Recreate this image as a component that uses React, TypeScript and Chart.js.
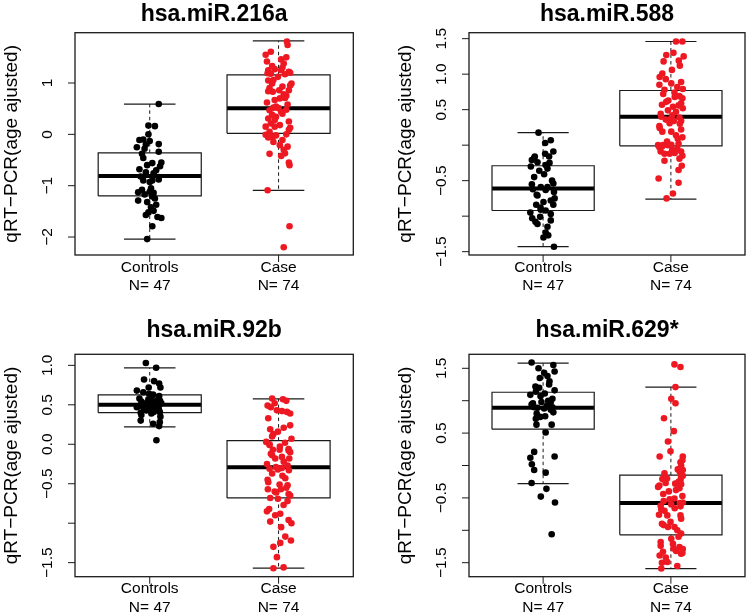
import React, { useEffect, useRef } from "react";
import { Chart, registerables } from "chart.js";
Chart.register(...registerables);

const FONT = '"Liberation Sans", Arial, Helvetica, sans-serif';

// ---------- DATA ----------
const titles = ["hsa.miR.216a", "hsa.miR.588", "hsa.miR.92b", "hsa.miR.629*"];
const groups = ["Controls", "Case"];
const groupCounts = ["N= 47", "N= 74"];
const yAxisTitle = "qRT\u2212PCR(age ajusted)";

// y-axis limits per panel [min, max]
const yLimits = [
  [-2.35, 1.98],
  [-1.547, 1.584],
  [-1.678, 1.14],
  [-1.716, 1.716],
];
// tick values per panel
const yTickValues = [
  [-2, -1, 0, 1],
  [-1.5, -1, -0.5, 0, 0.5, 1, 1.5],
  [-1.5, -1, -0.5, 0, 0.5, 1],
  [-1.5, -1, -0.5, 0, 0.5, 1, 1.5],
];
// tick labels per panel (blank where R dropped overlapping labels)
const yTickLabels = [
  ["\u22122", "\u22121", "0", "1"],
  ["\u22121.5", "", "\u22120.5", "", "0.5", "1.0", "1.5"],
  ["\u22121.5", "", "\u22120.5", "0.0", "0.5", "1.0"],
  ["\u22121.5", "", "\u22120.5", "", "0.5", "", "1.5"],
];

// box stats: [lower whisker, Q1, median, Q3, upper whisker]
const boxControls = [
  [-2.04, -1.2, -0.81, -0.36, 0.59],
  [-1.43, -0.92, -0.61, -0.29, 0.176],
  [0.22, 0.4, 0.5, 0.625, 0.967],
  [-0.28, 0.56, 0.89, 1.13, 1.58],
];
const boxCase = [
  [-1.09, 0.02, 0.51, 1.16, 1.82],
  [-0.76, -0.01, 0.4, 0.77, 1.46],
  [-1.57, -0.68, -0.29, 0.046, 0.574],
  [-1.59, -1.07, -0.58, -0.15, 1.21],
];

// jittered points: [jitter offset, value]
const miR216aControls = [
  [0.07, 0.59], [-0.01, 0.17], [0.04, 0.16], [-0.01, 0.0], [-0.08, -0.11], [-0.05, -0.1], [0.0, -0.13], [-0.1, -0.25],
  [-0.03, -0.2], [-0.04, -0.28], [0.07, -0.19], [0.07, -0.34], [-0.05, -0.46], [0.02, -0.56], [0.09, -0.55], [0.08, -0.62],
  [-0.08, -0.68], [-0.03, -0.74], [-0.07, -0.82], [0.03, -0.76], [0.07, -0.83], [-0.05, -0.9], [0.02, -0.9], [0.07, -0.88],
  [0.0, -0.93], [-0.06, -1.08], [-0.09, -1.13], [0.0, -1.12], [0.03, -1.14], [-0.04, -1.17], [0.02, -1.21], [-0.09, -1.29],
  [0.04, -1.25], [0.05, -1.37], [0.01, -1.42], [0.03, -1.49], [-0.03, -1.57], [-0.01, -1.52], [0.06, -1.61], [0.09, -1.63],
  [0.02, -1.79], [-0.02, -2.04], [-0.02, -0.6], [0.05, -0.7], [-0.06, -0.38], [0.01, -1.05], [-0.02, -1.32],
];
const miR216aCase = [
  [0.065, 1.81], [0.07, 1.74], [-0.06, 1.61], [-0.1, 1.55], [0.02, 1.46], [0.04, 1.38], [-0.05, 1.33], [-0.08, 1.25],
  [-0.03, 1.27], [0.02, 1.25], [0.08, 1.22], [-0.085, 1.19], [-0.005, 1.12], [-0.04, 1.06], [0.1, 0.99], [0.08, 0.86],
  [-0.05, 0.99], [0.03, 0.93], [0.005, 0.86], [-0.08, 0.84], [-0.045, 0.83], [0.06, 0.75], [0.01, 0.7], [-0.03, 0.67],
  [-0.02, 0.54], [-0.07, 0.47], [0.0, 0.51], [0.02, 0.44], [-0.05, 0.38], [-0.02, 0.34], [-0.08, 0.31], [-0.06, 0.21],
  [-0.1, 0.15], [-0.03, 0.15], [0.09, 0.13], [0.08, 0.09], [-0.07, 0.05], [-0.1, -0.01], [-0.045, -0.05], [0.03, -0.11],
  [0.01, -0.21], [0.07, -0.24], [0.05, -0.37], [-0.07, -0.38], [0.02, -0.42], [0.085, -0.6], [-0.085, -1.09], [0.085, -1.79],
  [0.04, -2.2], [0.03, 1.3], [0.09, 1.2], [-0.06, 1.18], [0.06, 1.5], [-0.09, 1.42], [0.05, 1.17], [-0.02, -0.02],
  [0.06, 0.0], [-0.08, -0.06], [0.04, -0.3], [0.08, -0.55], [-0.04, -0.15], [0.09, 0.95], [-0.07, 0.9], [0.04, 0.78],
  [-0.09, 0.62], [0.07, 0.58], [-0.04, 0.52], [0.06, 0.48], [0.03, 0.4], [-0.03, 0.28], [0.08, 0.25], [0.01, 0.18],
  [-0.08, 1.05], [0.05, 0.71],
];
const miR588Controls = [
  [-0.036, 0.176], [0.016, 0.03], [0.06, 0.07], [0.08, -0.09], [0.016, -0.12], [0.047, -0.16], [-0.065, -0.16], [-0.088, -0.21],
  [-0.044, -0.24], [-0.096, -0.3], [0.02, -0.28], [0.034, -0.33], [0.008, -0.41], [-0.07, -0.45], [-0.088, -0.55], [0.08, -0.54],
  [-0.018, -0.59], [0.034, -0.59], [0.085, -0.66], [-0.044, -0.71], [0.003, -0.8], [0.06, -0.78], [0.08, -0.84], [-0.054, -0.84],
  [-0.018, -0.91], [0.02, -0.92], [-0.1, -0.95], [-0.085, -1.03], [-0.023, -1.01], [0.06, -1.06], [-0.044, -1.11], [0.034, -1.15],
  [0.02, -1.23], [0.003, -1.3], [0.085, -1.43], [-0.07, -0.18], [0.05, -0.25], [-0.03, -0.36], [0.07, -0.5], [-0.08, -0.62],
  [0.02, -0.63], [-0.05, -0.7], [0.09, -0.75], [-0.02, -0.88], [0.06, -0.97], [-0.06, -1.08], [0.04, -1.27],
];
const miR588Case = [
  [0.04, 1.46], [0.09, 1.46], [-0.036, 1.27], [0.1, 1.25], [-0.057, 1.18], [0.062, 1.19], [0.008, 1.06], [-0.067, 1.01],
  [-0.088, 0.96], [0.08, 0.89], [0.003, 0.87], [-0.09, 0.85], [-0.05, 0.78], [0.093, 0.79], [0.028, 0.74], [0.067, 0.69],
  [-0.036, 0.61], [0.08, 0.59], [0.016, 0.54], [-0.023, 0.49], [0.093, 0.52], [0.04, 0.47], [-0.075, 0.4], [0.003, 0.38],
  [0.067, 0.39], [0.08, 0.34], [0.023, 0.34], [-0.088, 0.24], [-0.067, 0.19], [0.003, 0.19], [0.08, 0.22], [0.054, 0.09],
  [-0.1, 0.0], [-0.062, 0.0], [-0.023, 0.0], [0.003, 0.005], [-0.08, -0.09], [-0.05, -0.12], [-0.01, -0.12], [0.08, -0.09],
  [0.067, -0.19], [0.085, -0.29], [-0.096, -0.47], [0.06, -0.53], [0.016, -0.68], [-0.034, -0.75], [0.07, 1.12], [-0.04, 0.93],
  [0.05, 0.82], [0.02, 1.3], [0.05, -0.05], [-0.09, -0.03], [0.01, -0.07], [0.09, -0.15], [-0.05, -0.22], [0.03, -0.11],
  [-0.07, -0.02], [0.06, -0.35], [-0.06, 0.72], [0.09, 0.66], [-0.02, 0.63], [0.06, 0.56], [-0.08, 0.44], [0.01, 0.42],
  [-0.04, 0.36], [0.07, 0.3], [-0.09, 0.27], [0.04, 0.14], [-0.03, 0.05], [0.09, 0.11], [-0.07, 0.57], [0.03, 0.68],
  [-0.01, 0.31], [0.06, 0.02],
];
const miR92bControls = [
  [-0.03, 1.03], [0.05, 0.97], [-0.044, 0.82], [0.034, 0.8], [0.073, 0.77], [0.083, 0.72], [-0.008, 0.72], [-0.1, 0.68],
  [-0.05, 0.66], [-0.005, 0.64], [0.026, 0.63], [0.073, 0.61], [0.013, 0.6], [-0.065, 0.54], [-0.04, 0.51], [0.026, 0.54],
  [0.078, 0.51], [-0.1, 0.47], [-0.05, 0.47], [0.0, 0.49], [0.057, 0.47], [-0.026, 0.43], [0.031, 0.41], [0.078, 0.41],
  [-0.065, 0.37], [0.013, 0.39], [0.083, 0.35], [-0.07, 0.3], [0.078, 0.28], [0.026, 0.26], [0.073, 0.23], [0.052, 0.05],
  [0.02, 0.62], [-0.08, 0.58], [0.06, 0.56], [-0.02, 0.53], [0.09, 0.52], [-0.06, 0.5], [0.04, 0.5], [-0.09, 0.48],
  [0.01, 0.46], [0.07, 0.45], [-0.04, 0.44], [0.03, 0.42], [-0.07, 0.4], [0.08, 0.55], [-0.01, 0.57],
];
const miR92bCase = [
  [-0.05, 0.58], [0.034, 0.57], [-0.085, 0.49], [-0.06, 0.47], [-0.013, 0.43], [0.065, 0.41], [0.026, 0.42], [0.09, 0.24],
  [-0.065, 0.19], [-0.005, 0.16], [-0.04, 0.13], [0.1, 0.07], [-0.096, 0.03], [-0.07, -0.01], [0.078, -0.06], [-0.044, -0.07],
  [0.008, -0.07], [0.078, -0.08], [-0.05, -0.14], [-0.026, -0.18], [0.026, -0.16], [0.083, -0.18], [-0.07, -0.31], [0.026, -0.3],
  [-0.005, -0.32], [-0.085, -0.45], [0.052, -0.43], [0.008, -0.51], [0.07, -0.52], [0.018, -0.57], [-0.083, -0.57], [-0.018, -0.61],
  [0.078, -0.63], [-0.065, -0.68], [-0.005, -0.69], [0.039, -0.77], [-0.073, -0.82], [-0.026, -0.9], [0.013, -0.88], [-0.065, -0.98],
  [0.078, -0.96], [0.1, -1.0], [0.052, -1.17], [0.096, -1.22], [0.013, -1.25], [-0.013, -1.43], [-0.04, -1.57], [0.039, -1.56],
  [0.06, 0.55], [-0.03, 0.52], [0.09, 0.39], [-0.08, 0.33], [0.04, 0.21], [-0.05, 0.1], [0.07, -0.72], [-0.09, -0.85],
  [0.02, -1.05], [-0.04, -1.3], [0.05, 0.02], [-0.07, 0.0], [0.01, -0.03], [0.09, -0.1], [-0.06, -0.12], [0.04, -0.22],
  [-0.09, -0.25], [0.07, -0.27], [-0.02, -0.29], [0.08, -0.33], [-0.05, -0.37], [0.03, -0.4], [-0.08, -0.48], [0.06, -0.55],
  [-0.03, -0.6], [0.09, -0.65],
];
const miR629Controls = [
  [-0.09, 1.59], [0.08, 1.55], [0.09, 1.45], [-0.036, 1.5], [0.008, 1.43], [0.034, 1.38], [-0.026, 1.35], [0.047, 1.25],
  [-0.031, 1.2], [-0.1, 1.09], [0.013, 1.11], [-0.057, 1.14], [0.073, 1.03], [0.06, 0.98], [-0.013, 0.98], [-0.09, 0.94],
  [-0.07, 0.9], [-0.044, 0.89], [0.073, 0.9], [0.08, 0.82], [0.008, 0.88], [-0.057, 0.72], [-0.023, 0.75], [0.016, 0.76],
  [0.067, 0.63], [-0.052, 0.63], [0.02, 0.51], [-0.07, 0.21], [-0.1, 0.12], [0.09, 0.14], [-0.088, 0.02], [-0.07, -0.07],
  [0.02, -0.11], [-0.09, -0.27], [0.026, -0.36], [-0.018, -0.48], [0.093, -0.57], [0.067, -1.06], [0.05, 1.3], [-0.06, 1.22],
  [0.09, 1.16], [-0.02, 1.07], [0.04, 1.0], [-0.08, 0.96], [0.03, 0.92], [0.06, 0.86], [-0.05, 0.8],
];
const miR629Case = [
  [0.028, 1.56], [0.075, 1.52], [0.036, 1.21], [0.003, 1.03], [0.036, 0.96], [-0.054, 0.73], [0.023, 0.53], [-0.023, 0.37],
  [-0.003, 0.22], [-0.088, 0.14], [0.093, 0.14], [0.075, 0.05], [0.08, 0.0], [0.054, -0.06], [0.093, -0.07], [-0.067, -0.21],
  [0.093, -0.16], [0.075, -0.23], [-0.041, -0.27], [-0.1, -0.33], [0.034, -0.28], [0.08, -0.29], [0.067, -0.35], [-0.016, -0.4],
  [0.028, -0.51], [-0.057, -0.55], [0.093, -0.57], [0.075, -0.63], [0.003, -0.6], [-0.075, -0.68], [-0.093, -0.76], [-0.028, -0.77],
  [0.075, -0.77], [-0.003, -0.87], [-0.057, -0.92], [-0.023, -0.95], [0.028, -0.95], [0.08, -1.05], [0.003, -1.13], [0.016, -1.21],
  [0.067, -1.26], [0.041, -1.32], [-0.08, -1.24], [-0.062, -1.33], [-0.088, -1.39], [0.08, -1.36], [0.093, -1.29], [-0.028, -1.49],
  [-0.07, -1.5], [-0.075, -1.59], [0.07, -0.1], [-0.05, -0.12], [0.09, 0.08], [0.06, -1.1], [-0.08, -1.18], [0.02, -1.28],
  [0.09, -1.35], [-0.04, -1.42], [0.05, -1.55], [0.08, -0.18], [-0.03, -0.2], [0.06, -0.25], [-0.09, -0.31], [0.04, -0.38],
  [-0.06, -0.44], [0.09, -0.47], [-0.01, -0.52], [0.07, -0.58], [-0.08, -0.62], [0.03, -0.66], [-0.05, -0.7], [0.08, -0.82],
  [-0.07, -0.9], [0.05, -1.0],
];

const controlsPoints = [miR216aControls, miR588Controls, miR92bControls, miR629Controls];
const casePoints = [miR216aCase, miR588Case, miR92bCase, miR629Case];

// ---------- LAYOUT / STYLE ----------
const panels = [
  { left: 0, top: 0, w: 374, h: 306, area: { l: 75, t: 32.7, r: 353.3, b: 255 }, titleY: 20.5 },
  { left: 374, top: 0, w: 375, h: 306, area: { l: 95, t: 32.7, r: 372.7, b: 255 }, titleY: 20.5 },
  { left: 0, top: 306, w: 374, h: 306, area: { l: 75, t: 48.3, r: 353.3, b: 270.7 }, titleY: 30.5 },
  { left: 374, top: 306, w: 375, h: 306, area: { l: 95, t: 48.3, r: 372.7, b: 270.7 }, titleY: 30.5 },
];
const COLORS = ["#000000", "#EE1822"];
const BOX_HALF = 0.4;
const CAP_HALF = 0.2;

function lineDs(data: any[], extra: any = {}) {
  return {
    type: "scatter",
    data,
    showLine: true,
    pointRadius: 0,
    borderColor: "#1a1a1a",
    borderWidth: 1.2,
    fill: false,
    order: 2,
    clip: false,
    ...extra,
  };
}

function boxDatasets(stats: number[], g: number) {
  const [lo, q1, med, q3, hi] = stats;
  return [
    lineDs([
      { x: g - BOX_HALF, y: q1 }, { x: g + BOX_HALF, y: q1 }, { x: g + BOX_HALF, y: q3 },
      { x: g - BOX_HALF, y: q3 }, { x: g - BOX_HALF, y: q1 },
    ]),
    lineDs([{ x: g, y: q3 }, { x: g, y: hi }], { borderDash: [3.5, 3], borderWidth: 1 }),
    lineDs([{ x: g, y: q1 }, { x: g, y: lo }], { borderDash: [3.5, 3], borderWidth: 1 }),
    lineDs([{ x: g - CAP_HALF, y: hi }, { x: g + CAP_HALF, y: hi }]),
    lineDs([{ x: g - CAP_HALF, y: lo }, { x: g + CAP_HALF, y: lo }]),
    lineDs([{ x: g - BOX_HALF, y: med }, { x: g + BOX_HALF, y: med }], { borderWidth: 4, borderColor: "#000", borderCapStyle: "butt" }),
  ];
}

function pointDs(pts: number[][], g: number, color: string) {
  return {
    type: "scatter",
    data: pts.map(([dx, v]) => ({ x: g + dx, y: v })),
    pointRadius: 3.3,
    pointBackgroundColor: color,
    pointBorderWidth: 0,
    borderWidth: 0,
    showLine: false,
    order: 0,
    clip: false,
  };
}

function rotText(ctx: CanvasRenderingContext2D, text: string, x: number, y: number) {
  ctx.save();
  ctx.translate(x, y);
  ctx.rotate(-Math.PI / 2);
  ctx.textAlign = "center";
  ctx.textBaseline = "alphabetic";
  ctx.fillText(text, 0, 0);
  ctx.restore();
}

const decorPlugin = {
  id: "decor",
  afterDraw(chart: any, _args: any, opts: any) {
    const { ctx, chartArea: a, scales } = chart;
    const x = scales.x;
    const y = scales.y;
    ctx.save();
    ctx.fillStyle = "#000";
    ctx.strokeStyle = "#1a1a1a";
    ctx.lineWidth = 1.3;
    ctx.strokeRect(a.left, a.top, a.right - a.left, a.bottom - a.top);

    // y ticks + labels
    ctx.lineWidth = 1;
    ctx.font = `15.5px ${FONT}`;
    opts.yTicks.forEach((t: number, i: number) => {
      const py = y.getPixelForValue(t);
      ctx.beginPath();
      ctx.moveTo(a.left - 7, py);
      ctx.lineTo(a.left, py);
      ctx.stroke();
      if (opts.yLabels[i]) rotText(ctx, opts.yLabels[i], a.left - 23.5, py);
    });

    // x ticks + labels
    ctx.textAlign = "center";
    ctx.textBaseline = "alphabetic";
    opts.groups.forEach((name: string, i: number) => {
      const px = x.getPixelForValue(i + 1);
      ctx.beginPath();
      ctx.moveTo(px, a.bottom);
      ctx.lineTo(px, a.bottom + 7);
      ctx.stroke();
      ctx.fillText(name, px, a.bottom + 16.5);
      ctx.fillText(opts.counts[i], px, a.bottom + 35);
    });

    // y-axis title
    ctx.font = `19px ${FONT}`;
    rotText(ctx, opts.yTitle, a.left - 58.5, (a.top + a.bottom) / 2);

    // main title
    ctx.font = `bold 23px ${FONT}`;
    ctx.textAlign = "center";
    ctx.fillText(opts.title, (a.left + a.right) / 2, opts.titleY);
    ctx.restore();
  },
};

function buildConfig(i: number): any {
  const p = panels[i];
  const datasets = [
    ...boxDatasets(boxControls[i], 1),
    ...boxDatasets(boxCase[i], 2),
    pointDs(controlsPoints[i], 1, COLORS[0]),
    pointDs(casePoints[i], 2, COLORS[1]),
  ];
  return {
    type: "scatter",
    data: { datasets },
    plugins: [decorPlugin],
    options: {
      animation: false,
      responsive: false,
      maintainAspectRatio: false,
      events: [],
      layout: {
        padding: { left: p.area.l, top: p.area.t, right: p.w - p.area.r, bottom: p.h - p.area.b },
      },
      plugins: {
        legend: { display: false },
        tooltip: { enabled: false },
        title: { display: false },
        decor: {
          title: titles[i],
          titleY: p.titleY,
          yTicks: yTickValues[i],
          yLabels: yTickLabels[i],
          groups,
          counts: groupCounts,
          yTitle: yAxisTitle,
        },
      },
      scales: {
        x: { type: "linear", min: 0.42, max: 2.58, display: false },
        y: { type: "linear", min: yLimits[i][0], max: yLimits[i][1], display: false },
      },
    },
  };
}

function Panel({ index }: { index: number }) {
  const ref = useRef<HTMLCanvasElement | null>(null);
  const p = panels[index];
  useEffect(() => {
    if (!ref.current) return;
    const chart = new Chart(ref.current, buildConfig(index));
    return () => chart.destroy();
  }, [index]);
  return (
    <canvas
      ref={ref}
      width={p.w}
      height={p.h}
      style={{ position: "absolute", left: p.left, top: p.top, width: p.w, height: p.h, display: "block" }}
    />
  );
}

export default function App() {
  return (
    <div style={{ position: "absolute", left: 0, top: 0, width: 749, height: 612, background: "#fff", overflow: "hidden" }}>
      {panels.map((_, i) => (
        <Panel key={i} index={i} />
      ))}
    </div>
  );
}
